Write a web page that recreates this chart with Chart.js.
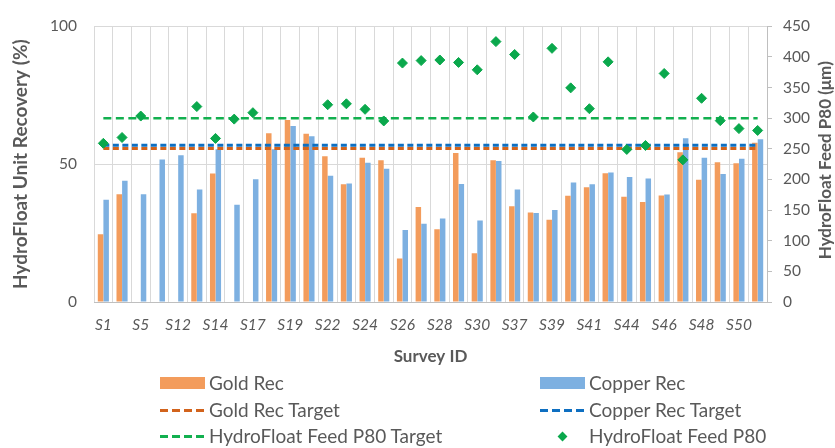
<!DOCTYPE html>
<html>
<head>
<meta charset="utf-8">
<script src="https://cdn.jsdelivr.net/npm/chart.js@4/dist/chart.umd.min.js"></script>
<style>
  html, body { margin: 0; padding: 0; background: #ffffff; }
  #wrap { position: relative; width: 835px; height: 448px; overflow: hidden; font-family: 'Lato', sans-serif; }
  #c { position: absolute; left: 0; top: 0; }
  .lg { position: absolute; height: 22px; line-height: 22px; font-size: 19px; color: #595959; white-space: nowrap; }
  .sw { position: absolute; }
</style>
</head>
<body>
<div id="wrap">
  <canvas id="c" width="835" height="448"></canvas>
  <div id="legend"></div>
</div>
<script>
// ---- data ----
const surveyIds = ['S1','','S5','','S12','','S14','','S17','','S19','','S22','','S24','','S26','','S28','','S30','','S37','','S39','','S41','','S44','','S46','','S48','','S50',''];

const goldRec = [24.6, 39.1, null, null, null, 32.2, 46.6, null, null, 61.2, 66.0, 61.0,
                 52.9, 42.7, 52.3, 51.4, 15.8, 34.5, 26.4, 54.0, 17.7, 51.4, 34.7, 32.5,
                 29.8, 38.5, 41.6, 46.7, 38.2, 36.3, 38.6, 54.3, 44.3, 50.7, 50.3, 57.8];

const copperRec = [37.1, 44.0, 39.1, 51.7, 53.2, 40.8, 55.4, 35.3, 44.5, 55.4, 63.8, 60.1,
                   45.8, 43.0, 50.5, 48.3, 26.1, 28.4, 30.3, 42.8, 29.6, 51.1, 40.8, 32.3,
                   33.4, 43.3, 42.7, 47.0, 45.3, 44.8, 39.0, 59.4, 52.3, 46.4, 52.0, 59.0];

const feedP80 = [259, 268.5, 303.5, null, null, 319, 267, 298.5, 309, null, null, null,
                 322, 323.5, 314.5, 295.5, 390, 394, 395, 391, 379, 425, 404, 302,
                 414, 349.5, 315.5, 392, 249, 255.5, 373, 232, 332.5, 296, 283, 280];

const goldRecTarget = 55.7;     // %
const copperRecTarget = 56.9;   // %
const feedP80Target = 300;      // µm

const leftTicks = [0, 50, 100];
const rightTicks = [0, 50, 100, 150, 200, 250, 300, 350, 400, 450];

// ---- styling ----
const C = {
  gold: '#F39C5C', copper: '#7DB0E1',
  goldT: '#D2631C', copperT: '#0E6FC1', greenT: '#12B04F', diamond: '#0AA84C',
  text: '#595959', grid: '#D9D9D9', axis: '#BFBFBF'
};
Chart.defaults.font.family = 'Lato, sans-serif';
Chart.defaults.color = C.text;

const rightTitle = {
  id: 'rightTitle',
  afterDraw(chart) {
    const ctx = chart.ctx;
    const a = chart.chartArea;
    ctx.save();
    ctx.translate(826, (a.top + a.bottom) / 2 - 4);
    ctx.rotate(-Math.PI / 2);
    ctx.font = 'bold 17px Lato, sans-serif';
    ctx.fillStyle = C.text;
    ctx.textAlign = 'center';
    ctx.textBaseline = 'middle';
    ctx.fillText('HydroFloat Feed P80 (μm)', 0, 0);
    ctx.restore();
  }
};

const constLine = v => surveyIds.map(() => v);

new Chart(document.getElementById('c'), {
  type: 'bar',
  data: {
    labels: surveyIds,
    datasets: [
      { type: 'scatter', label: 'HydroFloat Feed P80', data: feedP80, yAxisID: 'y2', order: 0,
        showLine: false, pointStyle: 'rectRot', pointRadius: 5, pointHoverRadius: 5,
        backgroundColor: C.diamond, borderColor: C.diamond, borderWidth: 1 },
      { type: 'line', label: 'HydroFloat Feed P80 Target', data: constLine(feedP80Target), yAxisID: 'y2', order: 1,
        borderColor: C.greenT, borderWidth: 2.5, borderDash: [8, 4.5], pointRadius: 0, fill: false },
      { type: 'line', label: 'Copper Rec Target', data: constLine(copperRecTarget), yAxisID: 'y', order: 1,
        borderColor: C.copperT, borderWidth: 3, borderDash: [6, 3.5], pointRadius: 0, fill: false },
      { type: 'line', label: 'Gold Rec Target', data: constLine(goldRecTarget), yAxisID: 'y', order: 1,
        borderColor: C.goldT, borderWidth: 3, borderDash: [6, 3.5], pointRadius: 0, fill: false },
      { label: 'Gold Rec', data: goldRec, yAxisID: 'y', order: 2, backgroundColor: C.gold,
        categoryPercentage: 0.6, barPercentage: 0.98 },
      { label: 'Copper Rec', data: copperRec, yAxisID: 'y', order: 2, backgroundColor: C.copper,
        categoryPercentage: 0.6, barPercentage: 0.98 }
    ]
  },
  options: {
    responsive: false,
    animation: false,
    layout: { padding: { top: 15, left: 0, right: 0, bottom: 81.4 } },
    plugins: { legend: { display: false }, tooltip: { enabled: false } },
    scales: {
      x: {
        type: 'category',
        offset: true,
        grid: { color: C.grid, offset: true, drawTicks: false },
        border: { display: true, color: C.axis },
        ticks: { autoSkip: false, maxRotation: 0, minRotation: 0, padding: 14,
                 font: { size: 15.5, style: 'italic' }, color: C.text },
        title: { display: true, text: 'Survey ID', font: { size: 17, weight: 'bold' }, color: C.text, padding: 0 },
        afterFit(s) { s.height = 64.6; }
      },
      y: {
        position: 'left', min: 0, max: 100,
        afterBuildTicks(s) { s.ticks = leftTicks.map(v => ({ value: v })); },
        grid: { color: C.grid, drawTicks: false },
        border: { display: false },
        ticks: { padding: 17, font: { size: 15.5 }, color: C.text },
        title: { display: true, text: 'HydroFloat Unit Recovery (%)', font: { size: 19, weight: 'bold' },
                 color: C.text, padding: { top: 9, bottom: 0 } },
        afterFit(s) { s.width = 94; }
      },
      y2: {
        position: 'right', min: 0, max: 450,
        afterBuildTicks(s) { s.ticks = rightTicks.map(v => ({ value: v })); },
        grid: { drawOnChartArea: false, drawTicks: true, tickLength: 5, color: C.axis },
        border: { display: true, color: C.axis },
        ticks: { padding: 11, font: { size: 15.5 }, color: C.text },
        afterFit(s) { s.width = 68; }
      }
    }
  },
  plugins: [rightTitle]
});

// ---- legend (HTML, two columns) ----
const legendItems = [
  { text: 'Gold Rec', kind: 'box', color: C.gold, col: 0, row: 0 },
  { text: 'Copper Rec', kind: 'box', color: C.copper, col: 1, row: 0 },
  { text: 'Gold Rec Target', kind: 'dash', color: C.goldT, col: 0, row: 1 },
  { text: 'Copper Rec Target', kind: 'dash', color: C.copperT, col: 1, row: 1 },
  { text: 'HydroFloat Feed P80 Target', kind: 'dash', color: C.greenT, col: 0, row: 2 },
  { text: 'HydroFloat Feed P80', kind: 'diamond', color: C.diamond, col: 1, row: 2 }
];
const colX = [160, 540];
const rowY = [383, 410, 436];
const lg = document.getElementById('legend');
legendItems.forEach(it => {
  const x = colX[it.col], y = rowY[it.row];
  const sw = document.createElement('div');
  sw.className = 'sw';
  if (it.kind === 'box') {
    Object.assign(sw.style, { left: x + 'px', top: (y - 6) + 'px', width: '45px', height: '12px', background: it.color });
  } else if (it.kind === 'dash') {
    Object.assign(sw.style, { left: x + 'px', top: (y - 1.5) + 'px', width: '45px', height: '3px',
      background: `repeating-linear-gradient(90deg, ${it.color} 0 8px, transparent 8px 12px)` });
  } else {
    Object.assign(sw.style, { left: (x + 22.5 - 3.5) + 'px', top: (y - 3.5) + 'px', width: '7px', height: '7px',
      background: it.color, transform: 'rotate(45deg)' });
  }
  lg.appendChild(sw);
  const t = document.createElement('div');
  t.className = 'lg';
  t.textContent = it.text;
  Object.assign(t.style, { left: (x + 49) + 'px', top: (y - 11) + 'px' });
  lg.appendChild(t);
});
</script>
</body>
</html>
